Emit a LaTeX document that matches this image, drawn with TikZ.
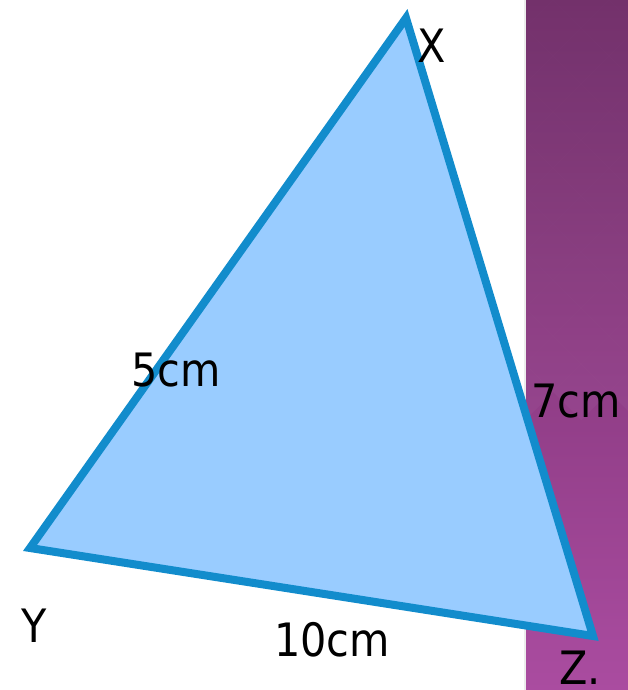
\documentclass[tikz,border=0pt]{standalone}
\usepackage{fontspec}
\setmainfont{DejaVu Sans Condensed}
\begin{document}
\begin{tikzpicture}[x=1pt,y=-1pt,
  lbl/.style={font=\fontsize{46}{50}\selectfont, text=black, inner sep=0pt},
  tri/.style={draw=triedge, fill=trifill, line width=8pt, line join=miter}]
\definecolor{triedge}{RGB}{18,140,204}
\definecolor{trifill}{RGB}{153,204,255}
\definecolor{bandtop}{RGB}{110,42,102}
\definecolor{bandbot}{RGB}{170,76,160}
\useasboundingbox (0,0) rectangle (628,690);
% purple band
\shade[top color=bandtop, bottom color=bandbot] (525,0) rectangle (628,690);
\begin{scope}
\clip (525,0) rectangle (628,690);
\foreach \i in {0,...,14}{
  \foreach \j in {0,1,2}{
    \pgfmathsetmacro{\cx}{525+56*\j+28*mod(\i,2)}
    \pgfmathsetmacro{\cy}{28*\i}
    \fill[white, opacity=0.035] (\cx,\cy-28) -- (\cx+28,\cy) -- (\cx,\cy+28) -- (\cx-28,\cy) -- cycle;
  }
}
\end{scope}
\draw[white!85!gray, line width=1.5pt] (525,0) -- (525,690);
% triangle
\coordinate (X) at (406,18);
\coordinate (Y) at (30,548);
\coordinate (Z) at (593,636);
\draw[tri] (X) -- (Y) -- (Z) -- cycle;
% labels
\node[lbl] (lx) at (432,46) {X};
\node[lbl] (ly) at (34,626) {Y};
\node[lbl] (lz) at (580,668) {Z.};
\node[lbl] (l5) at (176,370) {5cm};
\node[lbl] (l7) at (576,401) {7cm};
\node[lbl] (l10) at (332,640) {10cm};
\end{tikzpicture}
\end{document}
